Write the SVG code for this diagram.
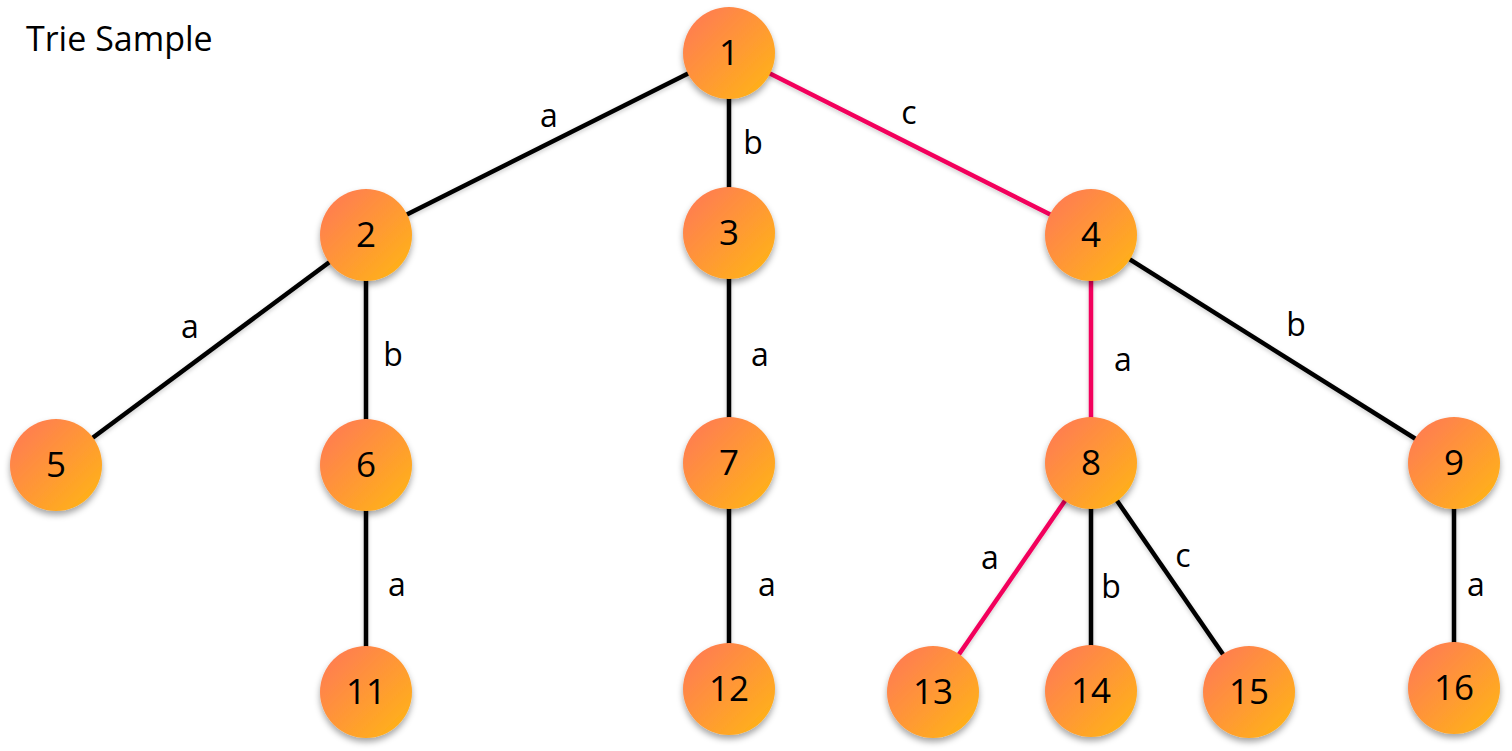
<svg xmlns="http://www.w3.org/2000/svg" width="1512" height="751" viewBox="0 0 1512 751">
<defs>
<linearGradient id="g" x1="0" y1="0" x2="1" y2="1">
<stop offset="0" stop-color="#FF7659"/>
<stop offset="1" stop-color="#FFB812"/>
</linearGradient>
<filter id="sh" x="-30%" y="-30%" width="160%" height="170%">
<feDropShadow dx="0" dy="4" stdDeviation="3" flood-color="#000" flood-opacity="0.35"/>
</filter>
<filter id="lsh" filterUnits="userSpaceOnUse" x="0" y="0" width="1512" height="751">
<feDropShadow dx="0" dy="2" stdDeviation="2" flood-color="#000" flood-opacity="0.2"/>
</filter>
</defs>
<style>
.n circle{fill:url(#g);filter:url(#sh)}
.n text{font-family:"Open Sans","DejaVu Sans",sans-serif;font-size:35px;fill:#000;text-anchor:middle}
.e line{stroke:#000;stroke-width:4.5}
.e line.r{stroke:#F2065C}
.lbl{font-family:"Open Sans","DejaVu Sans",sans-serif;font-size:32px;fill:#000;text-anchor:middle}
.title{font-family:"Open Sans","Liberation Sans",sans-serif;font-size:34px;fill:#000}
</style>
<rect width="1512" height="751" fill="#fff"/>
<text class="title" x="26" y="51">Trie Sample</text>
<g id="connectors" class="e" filter="url(#lsh)">
<line x1="729" y1="53" x2="366" y2="235"/>
<line x1="729" y1="53" x2="729" y2="233"/>
<line class="r" x1="729" y1="53" x2="1091" y2="235"/>
<line x1="366" y1="235" x2="56" y2="465"/>
<line x1="366" y1="235" x2="366" y2="465"/>
<line x1="729" y1="233" x2="729" y2="463"/>
<line class="r" x1="1091" y1="235" x2="1091" y2="463"/>
<line x1="1091" y1="235" x2="1454" y2="463"/>
<line x1="366" y1="465" x2="366" y2="692"/>
<line x1="729" y1="463" x2="729" y2="689"/>
<line class="r" x1="1091" y1="463" x2="933" y2="692"/>
<line x1="1091" y1="463" x2="1091" y2="691"/>
<line x1="1091" y1="463" x2="1249" y2="692"/>
<line x1="1454" y1="463" x2="1454" y2="688"/>
</g>
<g id="labels">
<text class="lbl" x="549" y="127">a</text>
<text class="lbl" x="753" y="154">b</text>
<text class="lbl" x="909" y="124">c</text>
<text class="lbl" x="190" y="338">a</text>
<text class="lbl" x="393" y="366">b</text>
<text class="lbl" x="760" y="366">a</text>
<text class="lbl" x="1123" y="371">a</text>
<text class="lbl" x="1296" y="336">b</text>
<text class="lbl" x="397" y="596">a</text>
<text class="lbl" x="767" y="596">a</text>
<text class="lbl" x="990" y="569">a</text>
<text class="lbl" x="1111" y="598">b</text>
<text class="lbl" x="1183" y="567">c</text>
<text class="lbl" x="1476" y="596">a</text>
</g>
<g id="n1" class="n"><circle cx="729" cy="53" r="46"/><text x="729" y="65">1</text></g>
<g id="n2" class="n"><circle cx="366" cy="235" r="46"/><text x="366" y="247">2</text></g>
<g id="n3" class="n"><circle cx="729" cy="233" r="46"/><text x="729" y="245">3</text></g>
<g id="n4" class="n"><circle cx="1091" cy="235" r="46"/><text x="1091" y="247">4</text></g>
<g id="n5" class="n"><circle cx="56" cy="465" r="46"/><text x="56" y="477">5</text></g>
<g id="n6" class="n"><circle cx="366" cy="465" r="46"/><text x="366" y="477">6</text></g>
<g id="n7" class="n"><circle cx="729" cy="463" r="46"/><text x="729" y="475">7</text></g>
<g id="n8" class="n"><circle cx="1091" cy="463" r="46"/><text x="1091" y="475">8</text></g>
<g id="n9" class="n"><circle cx="1454" cy="463" r="46"/><text x="1454" y="475">9</text></g>
<g id="n11" class="n"><circle cx="366" cy="692" r="46"/><text x="366" y="704">11</text></g>
<g id="n12" class="n"><circle cx="729" cy="689" r="46"/><text x="729" y="701">12</text></g>
<g id="n13" class="n"><circle cx="933" cy="692" r="46"/><text x="933" y="704">13</text></g>
<g id="n14" class="n"><circle cx="1091" cy="691" r="46"/><text x="1091" y="703">14</text></g>
<g id="n15" class="n"><circle cx="1249" cy="692" r="46"/><text x="1249" y="704">15</text></g>
<g id="n16" class="n"><circle cx="1454" cy="688" r="46"/><text x="1454" y="700">16</text></g>
</svg>
